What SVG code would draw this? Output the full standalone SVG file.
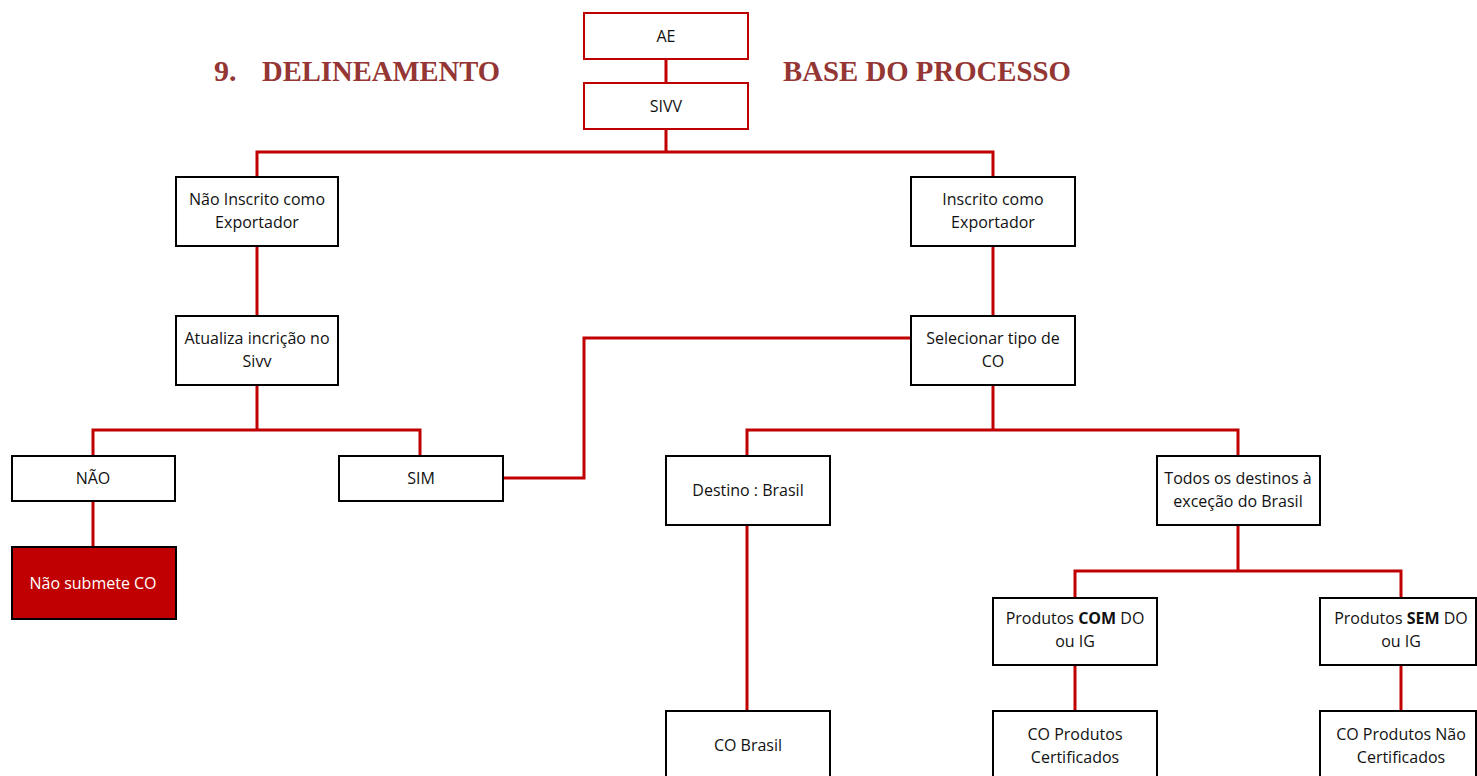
<svg xmlns="http://www.w3.org/2000/svg" width="1477" height="776" viewBox="0 0 1477 776">
<style>
.box{fill:#fff;stroke:#000;stroke-width:2}
.rbox{fill:#fff;stroke:#C00000;stroke-width:2}
.dark{fill:#C00000;stroke:#000;stroke-width:2}
.t{font-family:"Open Sans","Noto Sans",sans-serif;font-size:16px;fill:#111;text-anchor:middle}
.w{fill:#fff}
.title{font-family:"Liberation Serif","DejaVu Serif",serif;font-weight:bold;font-size:30px;fill:#943634}
.c{fill:none;stroke:#C00000;stroke-width:3}
</style>
<rect width="1477" height="776" fill="#fff"/>
<g id="title">
<text class="title" x="214" y="81">9.</text>
<text class="title" x="262" y="81" textLength="238" lengthAdjust="spacingAndGlyphs">DELINEAMENTO</text>
<text class="title" x="783" y="81" textLength="288" lengthAdjust="spacingAndGlyphs">BASE DO PROCESSO</text>
</g>
<g id="connectors">
<path class="c" d="M666 59V83"/>
<path class="c" d="M666 129V152M257 177V152H993V177"/>
<path class="c" d="M257 246V316"/>
<path class="c" d="M993 246V316"/>
<path class="c" d="M257 385V430M93 456V430H420V456"/>
<path class="c" d="M503 478H584V338H911"/>
<path class="c" d="M93 501V547"/>
<path class="c" d="M993 385V430M747 456V430H1238V456"/>
<path class="c" d="M747 525V711"/>
<path class="c" d="M1238 525V571M1075 598V571H1401V598"/>
<path class="c" d="M1075 665V711"/>
<path class="c" d="M1401 665V711"/>
</g>
<g id="ae"><rect class="rbox" x="584" y="13" width="164" height="46"/><text class="t" x="666" y="42">AE</text></g>
<g id="sivv"><rect class="rbox" x="584" y="83" width="164" height="46"/><text class="t" x="666" y="112">SIVV</text></g>
<g id="nao-inscrito"><rect class="box" x="176" y="177" width="162" height="69"/><text class="t" x="257" y="205">Não Inscrito como</text><text class="t" x="257" y="228">Exportador</text></g>
<g id="inscrito"><rect class="box" x="911" y="177" width="164" height="69"/><text class="t" x="993" y="205">Inscrito como</text><text class="t" x="993" y="228">Exportador</text></g>
<g id="atualiza"><rect class="box" x="176" y="316" width="162" height="69"/><text class="t" x="257" y="344">Atualiza incrição no</text><text class="t" x="257" y="367">Sivv</text></g>
<g id="selecionar"><rect class="box" x="911" y="316" width="164" height="69"/><text class="t" x="993" y="344">Selecionar tipo de</text><text class="t" x="993" y="367">CO</text></g>
<g id="nao"><rect class="box" x="12" y="456" width="163" height="45"/><text class="t" x="93" y="484">NÃO</text></g>
<g id="sim"><rect class="box" x="339" y="456" width="164" height="45"/><text class="t" x="421" y="484">SIM</text></g>
<g id="nao-submete"><rect class="dark" x="12" y="547" width="164" height="72"/><text class="t w" x="93" y="589">Não submete CO</text></g>
<g id="destino-brasil"><rect class="box" x="666" y="456" width="164" height="69"/><text class="t" x="748" y="496">Destino : Brasil</text></g>
<g id="todos-destinos"><rect class="box" x="1157" y="456" width="163" height="69"/><text class="t" x="1238" y="484">Todos os destinos à</text><text class="t" x="1238" y="507">exceção do Brasil</text></g>
<g id="co-brasil"><rect class="box" x="666" y="711" width="164" height="70"/><text class="t" x="748" y="751">CO Brasil</text></g>
<g id="produtos-com"><rect class="box" x="993" y="598" width="164" height="67"/><text class="t" x="1075" y="624">Produtos <tspan font-weight="bold">COM</tspan> DO</text><text class="t" x="1075" y="647">ou IG</text></g>
<g id="produtos-sem"><rect class="box" x="1320" y="598" width="156" height="67"/><text class="t" x="1401" y="624">Produtos <tspan font-weight="bold">SEM</tspan> DO</text><text class="t" x="1401" y="647">ou IG</text></g>
<g id="co-certificados"><rect class="box" x="993" y="711" width="164" height="70"/><text class="t" x="1075" y="740">CO Produtos</text><text class="t" x="1075" y="763">Certificados</text></g>
<g id="co-nao-certificados"><rect class="box" x="1320" y="711" width="156" height="70"/><text class="t" x="1401" y="740">CO Produtos Não</text><text class="t" x="1401" y="763">Certificados</text></g>
</svg>
